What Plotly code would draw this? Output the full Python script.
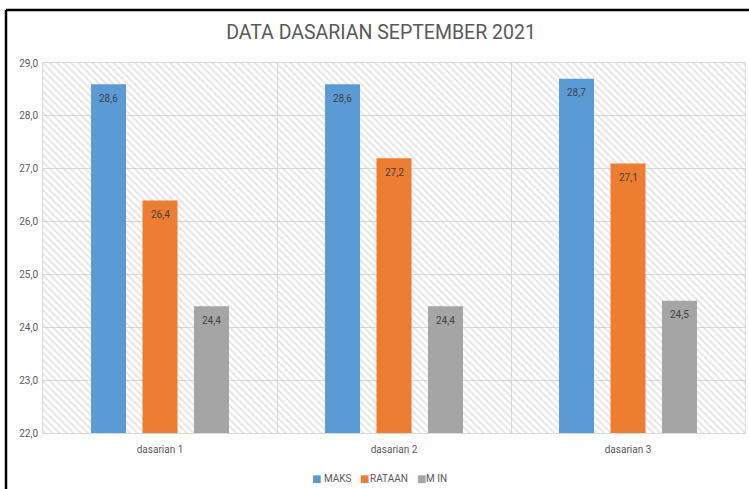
import plotly.graph_objects as go

categories = ["dasarian 1", "dasarian 2", "dasarian 3"]
maks = [28.6, 28.6, 28.7]
rataan = [26.4, 27.2, 27.1]
minv = [24.4, 24.4, 24.5]
series_names = ["MAKS", "RATAAN", "M IN"]
colors = ["#5B9BD5", "#ED7D31", "#A5A5A5"]
y_min, y_max = 22, 29

font_main = "Liberation Sans Narrow, Roboto, Liberation Sans, Arial"

W, H = 749, 489
L, R, T, B = 43, 4, 63, 56
pw, ph = W - L - R, H - T - B
BARGAP, GROUPGAP = 0.34, 0.32


def px_x(x):
    return (x - L) / pw


def px_y(y):
    return (H - B - y) / ph


fig = go.Figure()

# hatched background on hidden base axes
fig.add_trace(go.Scatter(
    x=[0, 1, 1, 0, 0], y=[0, 0, 1, 1, 0], mode="lines", fill="toself",
    fillcolor="rgba(0,0,0,0)", line=dict(width=0),
    fillpattern=dict(shape="\\", fgcolor="#c9c9c9", bgcolor="rgba(255,255,255,0)", size=5, solidity=0.35),
    hoverinfo="skip", showlegend=False, xaxis="x", yaxis="y"))

series_vals = [maks, rataan, minv]
slot_px = pw / len(categories) * (1 - BARGAP) / len(series_names)
annotations = []
for si, (name, vals, col) in enumerate(zip(series_names, series_vals, colors)):
    fig.add_trace(go.Bar(
        x=categories, y=vals, name=name, marker=dict(color=col, line=dict(width=0)),
        showlegend=False, xaxis="x2", yaxis="y2"))
    # value labels near the top inside each bar
    for cat, v in zip(categories, vals):
        annotations.append(dict(
            text=f"{v:.1f}".replace(".", ","), x=cat, y=v, xref="x2", yref="y2",
            xshift=(si - 1) * slot_px, yshift=-14, showarrow=False,
            xanchor="center", yanchor="middle",
            font=dict(family=font_main, size=10, color="#404040")))

# compact legend built from the series lists
legend_sym_x = [310, 358, 415]
legend_txt_x = [322, 368, 424]
for name, col, sx, tx in zip(series_names, colors, legend_sym_x, legend_txt_x):
    annotations.append(dict(text="■", x=px_x(sx), y=px_y(478), xref="paper", yref="paper",
                            xanchor="left", yanchor="middle", showarrow=False,
                            font=dict(family="DejaVu Sans", size=10, color=col)))
    annotations.append(dict(text=name, x=px_x(tx), y=px_y(478), xref="paper", yref="paper",
                            xanchor="left", yanchor="middle", showarrow=False,
                            font=dict(family=font_main, size=10, color="#595959")))

fig.update_layout(
    width=W, height=H,
    margin=dict(l=L, r=R, t=T, b=B, autoexpand=False),
    paper_bgcolor="white", plot_bgcolor="white",
    separators=",.",
    barmode="group", bargap=BARGAP, bargroupgap=GROUPGAP,
    showlegend=False,
    title=dict(text="DATA DASARIAN SEPTEMBER 2021", x=381 / W, xref="container", xanchor="center",
               y=1 - 32 / H, yref="container", yanchor="middle",
               font=dict(family=font_main, size=19.5, color="#595959")),
    xaxis=dict(range=[0, 1], visible=False, fixedrange=True, automargin=False),
    yaxis=dict(range=[0, 1], visible=False, fixedrange=True, automargin=False),
    xaxis2=dict(overlaying="x", type="category", categoryorder="array", categoryarray=categories,
                tickson="boundaries", showgrid=True, gridcolor="#d9d9d9", gridwidth=1,
                showline=True, linecolor="#d9d9d9", mirror=True, ticks="", automargin=False,
                ticklabelstandoff=7,
                tickfont=dict(family=font_main, size=10, color="#595959")),
    yaxis2=dict(overlaying="y", range=[y_min, y_max], dtick=1, tick0=22, tickformat=".1f",
                showgrid=True, gridcolor="#d9d9d9", gridwidth=1, zeroline=False,
                showline=True, linecolor="#d9d9d9", mirror=True, ticks="", automargin=False,
                ticklabelstandoff=2,
                tickfont=dict(family=font_main, size=10, color="#595959")),
    annotations=annotations,
    shapes=[
        dict(type="line", xref="paper", yref="paper", x0=px_x(6), x1=px_x(760), y0=px_y(10), y1=px_y(10),
             line=dict(color="black", width=2.5)),
        dict(type="line", xref="paper", yref="paper", x0=px_x(6), x1=px_x(6), y0=px_y(10), y1=px_y(500),
             line=dict(color="black", width=2.5)),
    ],
)

fig.write_html("out.html", config={"displayModeBar": False},
               post_script="document.body.style.margin='0';document.body.style.overflow='hidden';")
